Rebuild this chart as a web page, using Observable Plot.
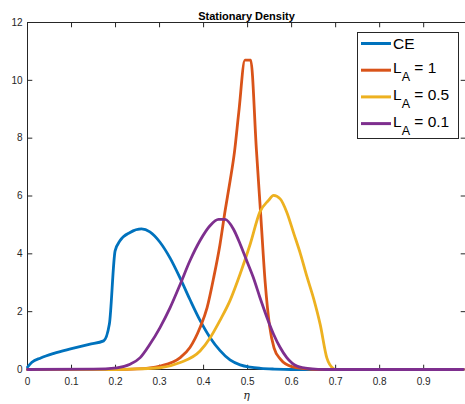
<!DOCTYPE html>
<html><head><meta charset="utf-8">
<script src="https://cdn.jsdelivr.net/npm/d3@7"></script>
<script src="https://cdn.jsdelivr.net/npm/@observablehq/plot@0.6"></script>
<style>html,body{margin:0;padding:0;background:#fff;}</style>
</head><body><div id="chart"></div>
<script>
// ---- data ----
const titleText = "Stationary Density";
const xLabelText = "η";
const xTicks = [0, 0.1, 0.2, 0.3, 0.4, 0.5, 0.6, 0.7, 0.8, 0.9];
const yTicks = [0, 2, 4, 6, 8, 10, 12];
const xDomain = [0, 0.995];
const yDomain = [0, 12];

const ceX = [0, 0.01, 0.03, 0.06, 0.1, 0.14, 0.173, 0.186, 0.199, 0.21, 0.233, 0.259, 0.278, 0.301, 0.324, 0.347, 0.369, 0.392, 0.415, 0.437, 0.46, 0.483, 0.506, 0.53, 0.56, 0.6, 0.99];
const ceY = [0.08, 0.25, 0.4, 0.56, 0.72, 0.87, 0.99, 1.57, 4.1, 4.45, 4.74, 4.86, 4.76, 4.4, 3.85, 3.15, 2.42, 1.7, 1.1, 0.66, 0.33, 0.16, 0.08, 0.04, 0.015, 0, 0];

const la1X = [0, 0.2, 0.25, 0.301, 0.347, 0.369, 0.392, 0.408, 0.423, 0.437, 0.449, 0.46, 0.47, 0.48, 0.494, 0.507, 0.52, 0.53, 0.54, 0.55, 0.56, 0.575, 0.6, 0.63, 0.66, 0.99];
const la1Y = [0, 0, 0.02, 0.12, 0.41, 0.76, 1.45, 2.14, 3.18, 4.3, 5.5, 6.5, 7.5, 8.9, 10.7, 10.7, 7.6, 5.3, 3.0, 1.5, 0.75, 0.35, 0.1, 0.03, 0, 0];

const la05X = [0, 0.2, 0.25, 0.301, 0.347, 0.392, 0.415, 0.437, 0.46, 0.483, 0.506, 0.528, 0.547, 0.559, 0.574, 0.589, 0.605, 0.62, 0.635, 0.65, 0.665, 0.68, 0.695, 0.7, 0.99];
const la05Y = [0, 0, 0.02, 0.06, 0.24, 0.64, 1.1, 1.69, 2.38, 3.3, 4.34, 5.45, 5.84, 6.02, 5.9, 5.44, 4.7, 4.0, 3.2, 2.45, 1.55, 0.4, 0.03, 0, 0];

const la01X = [0, 0.15, 0.203, 0.233, 0.256, 0.278, 0.301, 0.324, 0.347, 0.369, 0.392, 0.415, 0.434, 0.449, 0.468, 0.483, 0.498, 0.513, 0.528, 0.544, 0.559, 0.574, 0.589, 0.612, 0.64, 0.68, 0.99];
const la01Y = [0, 0.01, 0.06, 0.18, 0.41, 0.87, 1.45, 2.14, 2.95, 3.76, 4.46, 4.98, 5.19, 5.19, 4.85, 4.34, 3.76, 3.18, 2.49, 1.8, 1.22, 0.76, 0.41, 0.12, 0.03, 0, 0];

const seriesColors = ["#0072BD", "#D95319", "#EDB120", "#7E2F8E"];
const legendMain = ["CE", "L", "L", "L"];
const legendSub = ["", "A", "A", "A"];
const legendRest = ["", " = 1", " = 0.5", " = 0.1"];

// ---- build ----
const seriesX = [ceX, la1X, la05X, la01X];
const seriesY = [ceY, la1Y, la05Y, la01Y];
const seriesRows = seriesX.map((xs, s) => xs.map((x, i) => ({x, y: seriesY[s][i]})));

const axisColor = "#262626";
const font = "'Liberation Sans', Arial, Helvetica, sans-serif";
const tickShape = {draw(ctx, l) { ctx.moveTo(0, 0); ctx.lineTo(0, -l); }};
const tickLen = 4.4;
const xMax = xDomain[1], yMax = yDomain[1];

function legendMark(index, scales, values, dims) {
  const g = d3.create("svg:g").attr("text-anchor", "start");
  const bw = 101, bh = 106;
  const bx = dims.width - dims.marginRight - bw - 7;
  const by = dims.marginTop + 10;
  g.append("rect").attr("x", bx + 0.5).attr("y", by + 0.5).attr("width", bw).attr("height", bh)
    .attr("fill", "white").attr("stroke", axisColor).attr("stroke-width", 1);
  legendMain.forEach((m, i) => {
    const cy = by + 11.5 + i * 26.7;
    g.append("line").attr("x1", bx + 4).attr("x2", bx + 34).attr("y1", cy).attr("y2", cy)
      .attr("stroke", seriesColors[i]).attr("stroke-width", 3);
    const t = g.append("text").attr("x", bx + 36).attr("fill", "#000")
      .attr("font-size", 15.5).attr("font-family", font);
    if (legendSub[i]) {
      t.attr("y", cy + 3);
      t.append("tspan").text(m);
      t.append("tspan").attr("dy", 8).attr("font-size", 12.5).text(legendSub[i]);
      t.append("tspan").attr("dy", -8).text(legendRest[i]);
    } else {
      t.attr("y", cy + 5.8).text(m);
    }
  });
  return g.node();
}

const chart = Plot.plot({
  width: 465, height: 404,
  marginLeft: 27, marginRight: 0, marginTop: 22, marginBottom: 35,
  style: {fontFamily: font, fontSize: "10px", background: "white", overflow: "visible"},
  x: {domain: xDomain},
  y: {domain: yDomain},
  marks: [
    Plot.frame({stroke: axisColor, strokeWidth: 1}),
    Plot.vector(xTicks, {x: d => d, y: () => 0, length: tickLen, rotate: 0, anchor: "start", shape: tickShape, stroke: axisColor, strokeWidth: 1}),
    Plot.vector(xTicks, {x: d => d, y: () => yMax, length: tickLen, rotate: 180, anchor: "start", shape: tickShape, stroke: axisColor, strokeWidth: 1}),
    Plot.vector(yTicks, {x: () => 0, y: d => d, length: tickLen, rotate: 90, anchor: "start", shape: tickShape, stroke: axisColor, strokeWidth: 1}),
    Plot.vector(yTicks, {x: () => xMax, y: d => d, length: tickLen, rotate: -90, anchor: "start", shape: tickShape, stroke: axisColor, strokeWidth: 1}),
    ...seriesRows.map((rows, s) => Plot.line(rows, {x: "x", y: "y", stroke: seriesColors[s], strokeWidth: 2.8, curve: "monotone-x"})),
    Plot.axisX(xTicks, {tickSize: 0, tickPadding: 8, tickFormat: d => String(d), fill: axisColor, label: null}),
    Plot.axisY(yTicks, {tickSize: 0, tickPadding: 5, tickFormat: d => String(d), fill: axisColor, label: null}),
    Plot.text([titleText], {text: d => d, frameAnchor: "top", dy: -10, fontWeight: "bold", fontSize: 11, fill: "#000"}),
    Plot.text([xLabelText], {text: d => d, frameAnchor: "bottom", dy: 29, fontStyle: "italic", fontSize: 11, fill: axisColor, fontFamily: "'DejaVu Serif', serif"}),
    legendMark
  ]
});
document.getElementById("chart").append(chart);
</script>
</body></html>
